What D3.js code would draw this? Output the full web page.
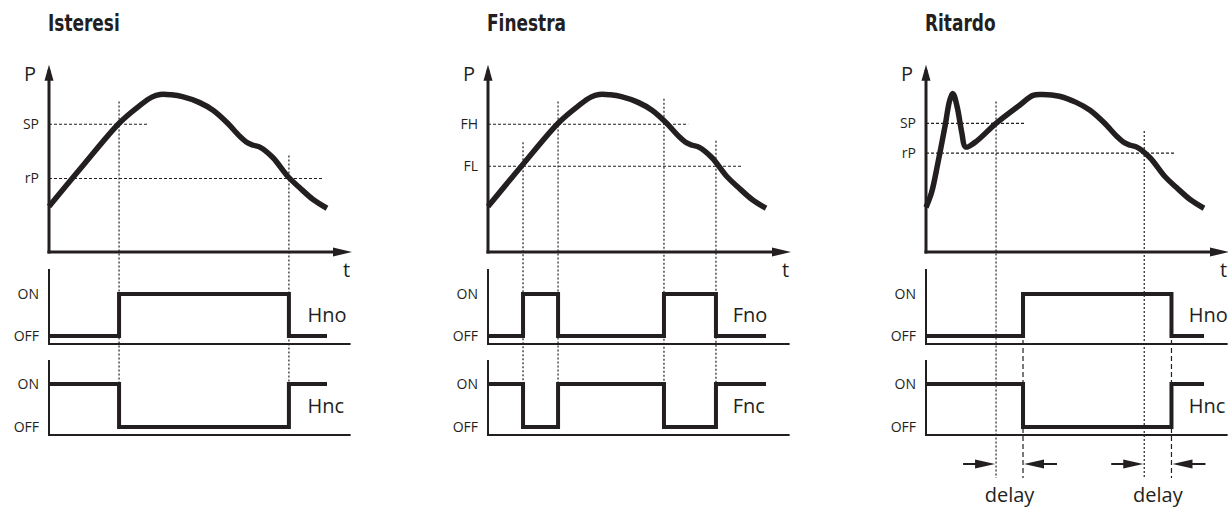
<!DOCTYPE html>
<html>
<head>
<meta charset="utf-8">
<script src="https://cdn.jsdelivr.net/npm/d3@7"></script>
<style>
  body { margin: 0; background: #fff; }
  svg { display: block; }
</style>
</head>
<body>
<script>
// SVG area
var svgWidth = 1228;
var svgHeight = 511;

// panel titles
var panelTitles = ["Isteresi", "Finestra", "Ritardo"];

// pressure curve used by Isteresi and Finestra (time 0..100, P 0..100)
var curveT = [0, 12, 25.5, 32.5, 37, 40, 44, 48, 54, 59, 64, 68.7, 71.5, 73.5, 76, 80.5, 86, 90, 95, 100];
var curveP = [26, 49, 74, 83.5, 88.5, 90, 89.8, 88.8, 85.5, 81, 74, 66, 62.3, 61, 59.8, 54, 43, 37, 30, 25];

// pressure curve with the initial spike (Ritardo)
var spikeT = [0, 2, 4.3, 6.8, 8.6, 9.7, 11.2, 12.9, 14.2, 17.5, 25.2, 33.8, 38.5, 42, 48, 54, 59, 64, 68.7, 71.5, 73.5, 76, 80.5, 86, 90, 95, 100];
var spikeP = [25.5, 34, 51, 71.5, 87, 90.5, 83, 68, 60, 62.5, 73.5, 84, 89.5, 90, 89, 85.5, 81, 74, 66, 62.3, 61, 59.8, 54, 43, 37, 30, 25];

// thresholds (label, level, where the dashed line stops)
var hystLabels = ["SP", "rP"];
var hystValues = [73, 42];
var hystLineEnd = [35.6, 98.6];
var windowLabels = ["FH", "FL"];
var windowValues = [73, 49];
var windowLineEnd = [72, 91.4];
var delayLabels = ["SP", "rP"];
var delayValues = [73.5, 56.5];
var delayLineEnd = [35.6, 89.6];

// times where the curve crosses a threshold
var hystCrossT = [25.2, 86.3];
var windowCrossT = [12.6, 25.2, 63.3, 82];
var delayCrossT = [25.2, 78.5];

// output states
var stateLevels = ["ON", "OFF"];
var hystStepT = [0, 25.2, 86.3, 100];
var hystNo = ["OFF", "ON", "OFF", "OFF"];
var hystNc = ["ON", "OFF", "ON", "ON"];
var windowStepT = [0, 12.6, 25.2, 63.3, 82, 100];
var windowNo = ["OFF", "ON", "OFF", "ON", "OFF", "OFF"];
var windowNc = ["ON", "OFF", "ON", "OFF", "ON", "ON"];
var delayStepT = [0, 34.9, 88.3, 100];
var delayNo = ["OFF", "ON", "OFF", "OFF"];
var delayNc = ["ON", "OFF", "ON", "ON"];

var outputNames = [["Hno", "Hnc"], ["Fno", "Fnc"], ["Hno", "Hnc"]];
var delayText = "delay";

var ink = "#231f20";
var labelFont = "'Open Sans', 'Noto Sans', sans-serif";
var titleFont = "'Liberation Sans Narrow', 'DejaVu Sans Condensed', sans-serif";

var svg = d3.select("body")
  .append("svg")
  .attr("width", svgWidth)
  .attr("height", svgHeight);

svg.append("rect").attr("width", svgWidth).attr("height", svgHeight).attr("fill", "#fff");

var panels = [
  { left: 49, title: panelTitles[0], t: curveT, p: curveP, labels: hystLabels, values: hystValues,
    lineEnd: hystLineEnd, cross: hystCrossT, stepT: hystStepT, no: hystNo, nc: hystNc,
    names: outputNames[0], nameT: 93, delay: false },
  { left: 488, title: panelTitles[1], t: curveT, p: curveP, labels: windowLabels, values: windowValues,
    lineEnd: windowLineEnd, cross: windowCrossT, stepT: windowStepT, no: windowNo, nc: windowNc,
    names: outputNames[1], nameT: 88, delay: false },
  { left: 926, title: panelTitles[2], t: spikeT, p: spikeP, labels: delayLabels, values: delayValues,
    lineEnd: delayLineEnd, cross: delayCrossT, stepT: delayStepT, no: delayNo, nc: delayNc,
    names: outputNames[2], nameT: 94.5, delay: true }
];

// shared vertical scales
var yScale = d3.scaleLinear().domain([0, 100]).range([252, 77]);
var noScale = d3.scalePoint().domain(stateLevels).range([294, 336]);
var ncScale = d3.scalePoint().domain(stateLevels).range([384, 427]);
var noFrame = [269, 344];
var ncFrame = [360, 435];
var arrowY = 464;

function arrowHead(g, tipX, tipY, dir, len, half) {
  // dir: "right", "left", "up"
  var pts;
  if (dir === "right") pts = [[tipX, tipY], [tipX - len, tipY - half], [tipX - len, tipY + half]];
  else if (dir === "left") pts = [[tipX, tipY], [tipX + len, tipY - half], [tipX + len, tipY + half]];
  else pts = [[tipX, tipY], [tipX - half, tipY + len], [tipX + half, tipY + len]];
  g.append("path").attr("d", "M" + pts.join("L") + "Z").attr("fill", ink);
}

panels.forEach(function(cfg) {
  var xScale = d3.scaleLinear().domain([0, 100]).range([cfg.left, cfg.left + 278]);
  var g = svg.append("g");
  var x0 = xScale(0);

  // title (condensed bold)
  g.append("text")
    .attr("transform", "translate(" + (x0 - 1) + ",31) scale(0.82,1)")
    .attr("font-family", titleFont)
    .attr("font-weight", "bold")
    .attr("font-size", 23)
    .attr("fill", ink)
    .text(cfg.title);

  // threshold lines
  cfg.values.forEach(function(v, i) {
    g.append("line")
      .attr("x1", x0).attr("x2", xScale(cfg.lineEnd[i]))
      .attr("y1", yScale(v)).attr("y2", yScale(v))
      .attr("stroke", ink).attr("stroke-width", 1.2)
      .attr("stroke-dasharray", "3,2");
  });

  // threshold labels
  var thrAxis = d3.axisLeft(yScale)
    .tickValues(cfg.values)
    .tickSize(0)
    .tickPadding(10)
    .tickFormat(function(d, i) { return cfg.labels[i]; });
  var thrG = g.append("g").attr("transform", "translate(" + x0 + ",0)").call(thrAxis);
  thrG.select(".domain").remove();
  thrG.attr("font-family", labelFont).attr("font-size", 14);
  thrG.selectAll("text").attr("fill", ink);

  // vertical guides at the crossings
  var pAt = d3.scaleLinear().domain(cfg.t).range(cfg.p);
  var guideBottom = cfg.delay ? 478 : ncScale("ON");
  cfg.cross.forEach(function(ct) {
    g.append("line")
      .attr("x1", xScale(ct)).attr("x2", xScale(ct))
      .attr("y1", yScale(pAt(ct)) - 22).attr("y2", guideBottom)
      .attr("stroke", ink).attr("stroke-width", 1.2)
      .attr("stroke-dasharray", "2,2");
  });

  // pressure curve
  var line = d3.line()
    .x(function(d) { return xScale(d[0]); })
    .y(function(d) { return yScale(d[1]); })
    .curve(d3.curveCatmullRom.alpha(0.5));
  g.append("path")
    .datum(d3.zip(cfg.t, cfg.p))
    .attr("d", line)
    .attr("fill", "none")
    .attr("stroke", ink)
    .attr("stroke-width", 5.5)
    .attr("stroke-linejoin", "round");

  // top axes with arrows
  var xEnd = xScale(109);
  g.append("line")
    .attr("x1", x0).attr("x2", x0)
    .attr("y1", yScale(0) + 1.5).attr("y2", yScale(104))
    .attr("stroke", ink).attr("stroke-width", 3);
  arrowHead(g, x0, yScale(107), "up", 16, 4.5);
  g.append("line")
    .attr("x1", x0 - 1.5).attr("x2", xEnd - 14)
    .attr("y1", yScale(0)).attr("y2", yScale(0))
    .attr("stroke", ink).attr("stroke-width", 3);
  arrowHead(g, xEnd, yScale(0), "right", 19, 4.5);

  g.append("text")
    .attr("x", x0 - 13).attr("y", 81)
    .attr("text-anchor", "end")
    .attr("font-family", labelFont).attr("font-size", 20).attr("fill", ink)
    .text("P");
  g.append("text")
    .attr("x", xScale(107)).attr("y", 277)
    .attr("text-anchor", "middle")
    .attr("font-family", labelFont).attr("font-size", 20).attr("fill", ink)
    .text("t");

  // output panels
  var outputs = [
    { scale: noScale, frame: noFrame, states: cfg.no, name: cfg.names[0] },
    { scale: ncScale, frame: ncFrame, states: cfg.nc, name: cfg.names[1] }
  ];
  outputs.forEach(function(o) {
    g.append("line")
      .attr("x1", x0).attr("x2", x0)
      .attr("y1", o.frame[0]).attr("y2", o.frame[1] + 1)
      .attr("stroke", ink).attr("stroke-width", 2);
    g.append("line")
      .attr("x1", x0 - 1).attr("x2", xScale(108.5))
      .attr("y1", o.frame[1]).attr("y2", o.frame[1])
      .attr("stroke", ink).attr("stroke-width", 2);

    var stAxis = d3.axisLeft(o.scale).tickSize(0).tickPadding(10);
    var stG = g.append("g").attr("transform", "translate(" + x0 + ",0)").call(stAxis);
    stG.select(".domain").remove();
    stG.attr("font-family", labelFont).attr("font-size", 14);
    stG.selectAll("text").attr("fill", ink);

    var step = d3.line()
      .x(function(d) { return xScale(d[0]); })
      .y(function(d) { return o.scale(d[1]); })
      .curve(d3.curveStepAfter);
    g.append("path")
      .datum(d3.zip(cfg.stepT, o.states))
      .attr("d", step)
      .attr("fill", "none")
      .attr("stroke", ink)
      .attr("stroke-width", 4)
      .attr("stroke-linejoin", "miter");

    g.append("text")
      .attr("x", xScale(cfg.nameT))
      .attr("y", (o.scale("ON") + o.scale("OFF")) / 2 + 7)
      .attr("font-family", labelFont).attr("font-size", 20).attr("fill", ink)
      .text(o.name);
  });

  // delay markers
  if (cfg.delay) {
    var switchT = cfg.stepT.slice(1, 3);
    switchT.forEach(function(st, i) {
      var sx = xScale(st);
      var cx = xScale(cfg.cross[i]);
      g.append("line")
        .attr("x1", sx).attr("x2", sx)
        .attr("y1", noScale("OFF") + 4).attr("y2", 478)
        .attr("stroke", ink).attr("stroke-width", 1.2)
        .attr("stroke-dasharray", "5,3");

      g.append("line")
        .attr("x1", cx - 33).attr("x2", cx - 15)
        .attr("y1", arrowY).attr("y2", arrowY)
        .attr("stroke", ink).attr("stroke-width", 2);
      arrowHead(g, cx - 1, arrowY, "right", 20, 4.5);
      g.append("line")
        .attr("x1", sx + 15).attr("x2", sx + 34)
        .attr("y1", arrowY).attr("y2", arrowY)
        .attr("stroke", ink).attr("stroke-width", 2);
      arrowHead(g, sx + 1, arrowY, "left", 20, 4.5);

      g.append("text")
        .attr("x", (sx + cx) / 2).attr("y", 502)
        .attr("text-anchor", "middle")
        .attr("font-family", labelFont).attr("font-size", 20).attr("fill", ink)
        .text(delayText);
    });
  }
});
</script>
</body>
</html>
